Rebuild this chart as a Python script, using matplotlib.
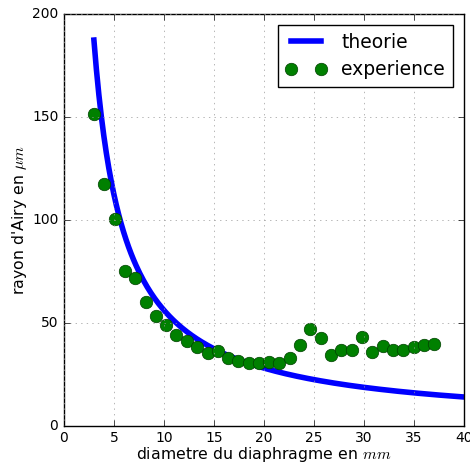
import numpy as np
import matplotlib
matplotlib.use('Agg')
import matplotlib.pyplot as plt

# mesures : diametre du diaphragme (mm) et rayon d'Airy (um)
D_exp = [3.0, 4.05, 5.1, 6.1, 7.15, 8.2, 9.2, 10.25, 11.25, 12.3, 13.3, 14.4, 15.4,
         16.45, 17.45, 18.5, 19.5, 20.5, 21.55, 22.6, 23.6, 24.65, 25.7, 26.7, 27.75,
         28.8, 29.8, 30.85, 31.9, 32.9, 33.95, 35.0, 36.0, 37.05]
r_exp = [151.5, 117.5, 100.5, 75.0, 72.0, 60.0, 53.5, 49.0, 44.0, 41.0, 38.5, 35.5, 36.5,
         33.0, 31.5, 30.5, 30.5, 31.0, 30.5, 33.0, 39.5, 47.0, 42.5, 34.5, 37.0,
         37.0, 43.0, 36.0, 39.0, 37.0, 37.0, 38.5, 39.5, 40.0]

# theorie : r = K / D
K = 562.0
D_th = np.linspace(3, 40, 300)
r_th = K / D_th

plt.style.use('classic')
plt.rcParams['mathtext.fontset'] = 'cm'

fig = plt.figure(figsize=(4.70, 4.66), dpi=100, facecolor='white')
ax = fig.add_axes([0.136, 0.086, 0.851, 0.884])

ax.plot(D_th, r_th, color='blue', lw=4, label='theorie')
ax.plot(D_exp, r_exp, 'o', color='green', markersize=9, markeredgecolor='#004000',
        markeredgewidth=0.5, label='experience')

ax.set_xlim(0, 40)
ax.set_ylim(0, 200)
ax.set_xticks(range(0, 41, 5))
ax.set_yticks(range(0, 201, 50))
ax.tick_params(labelsize=10)
ax.grid(True, color='0.6', linestyle=':')

ax.set_xlabel('diametre du diaphragme en $mm$', fontsize=11.3, labelpad=0)
ax.set_ylabel("rayon d'Airy en $\\mu m$", fontsize=11.3, labelpad=2)

ax.legend(loc='upper right', numpoints=2, fontsize=13.5, borderaxespad=0.6,
          labelspacing=0.45, handlelength=2.2)

fig.savefig('out.png', dpi=100, facecolor='white')
